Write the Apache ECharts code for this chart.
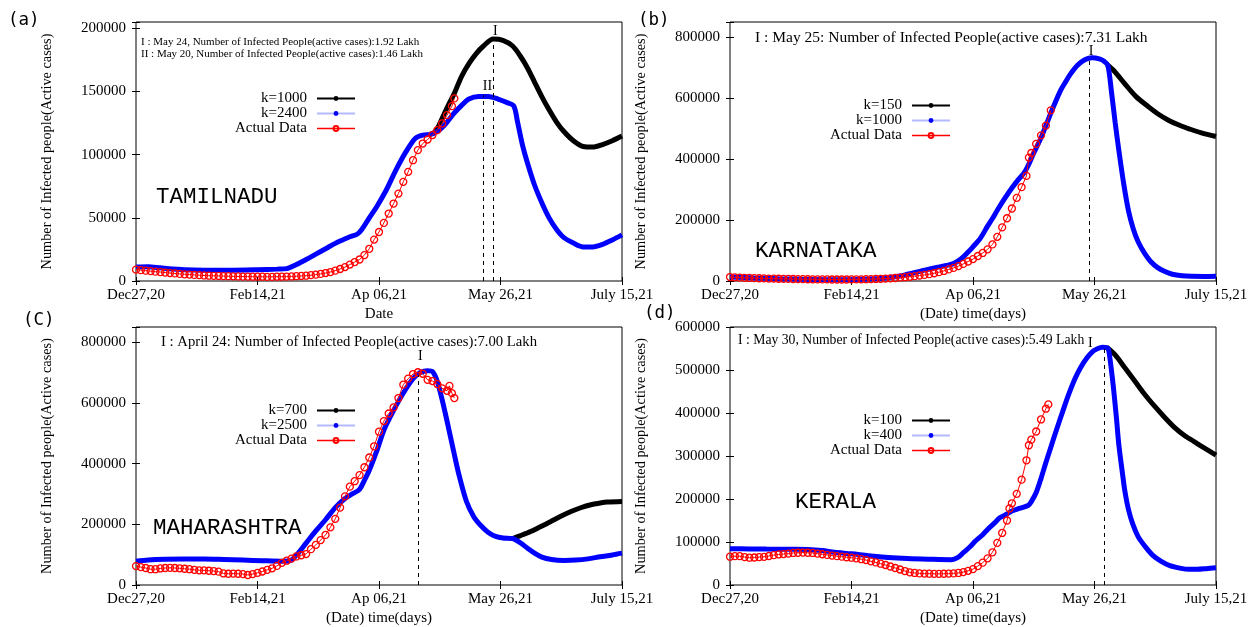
<!DOCTYPE html>
<html>
<head>
<meta charset="utf-8">
<title>Active cases - Tamilnadu, Karnataka, Maharashtra, Kerala</title>
<script src="https://cdn.jsdelivr.net/npm/echarts@6/dist/echarts.min.js"></script>
<style>
  html, body { margin: 0; padding: 0; background: #fff; }
  #chart { width: 1256px; height: 627px; }
</style>
</head>
<body>
<div id="chart"></div>
<script>
// x = days after Dec 27 2020, ticks every 50 days
var xTickLabels = ['Dec27,20', 'Feb14,21', 'Ap 06,21', 'May 26,21', 'July 15,21'];

// ---- (a) TAMILNADU ----
var tnK1000Days = [121,123,125,127,129,131,134,137,140,143,147,151,155,158,161,164,167,170,173,176,180,184,188,192,196,200];
var tnK1000 = [116000,118000,124500,133000,141000,148500,162000,172000,180000,186000,191500,190500,186000,178500,169000,157500,146000,135500,126000,118500,111000,106500,106000,108000,111000,114700];
var tnK2400Days = [0,5,10,15,20,28,38,50,58,62,66,70,74,78,82,85,88,91,93,96,99,103,107,111,115,118,121,124,127,131,134,137,141,145,149,153,155.5,157,159,161,164,167,170,173,176,180,184,188,192,196,200];
var tnK2400 = [11000,11300,10400,9500,9000,8600,8500,8900,9400,9800,13000,17000,21300,25500,29800,32500,35000,37000,41000,50000,58600,72000,88000,102000,113000,115500,116000,118500,123500,133000,139000,144000,146000,146000,144000,141000,138500,126000,108000,94000,76000,62000,50000,41000,34500,30000,27000,27000,29000,32500,36500];
var tnActualDays = [0,2,4,6,8,10,12,14,16,18,20,22,24,26,28,30,32,34,36,38,40,42,44,46,48,50,52,54,56,58,60,62,64,66,68,70,72,74,76,78,80,82,84,86,88,90,92,94,96,98,100,102,104,106,108,110,112,114,116,118,120,122,124,126,128,130,131];
var tnActual = [9000,8600,8200,7800,7400,7100,6700,6300,6000,5600,5300,5100,4800,4600,4400,4200,4100,4000,3900,3800,3700,3600,3500,3500,3400,3400,3400,3300,3300,3400,3400,3500,3600,3800,4000,4200,4600,5000,5600,6300,7100,8200,9500,11000,13000,15000,17000,20500,25500,32800,38800,46000,53400,61300,69200,78500,86400,95600,103600,108800,112000,115500,119400,124700,131300,138400,144500];
var tnPeakDays = [143, 147];
var tnPeakTops = [147100, 189400];
var tnPeakLabels = ['II', 'I'];

// ---- (b) KARNATAKA ----
var kaK150Days = [155,158,162.5,167,172.4,176,180.6,185,188.9,194,200];
var kaK150 = [712000,690000,647000,606000,570500,549000,527000,511000,499500,486000,474300];
var kaK1000Days = [0,10,20,30,40,50,60,65,70,73,77,81,85,89,92,95,98,100,103,106,108,110,113,116,118,120,121,122,123,125,128,130,133,136,138,140,143,146,149,152,154,155.5,157,158.5,160,162,164,166,168,170.7,173,176,179,182,186,190,195,200];
var kaK1000 = [13000,10000,7600,5500,4500,4500,7000,11000,16500,22000,29500,37500,44500,51000,57000,72000,95000,112000,140000,180000,205000,232000,270000,305000,326000,345000,355000,368000,384000,420000,470000,510000,570000,625000,652000,678000,708000,726000,733000,729000,721000,708000,620000,520000,430000,320000,230000,170000,128000,89600,65000,44000,31000,22000,17000,15300,15000,15300];
var kaActualDays = [0,2,4,6,8,10,12,14,16,18,20,22,24,26,28,30,32,34,36,38,40,42,44,46,48,50,52,54,56,58,60,62,64,66,68,70,72,74,76,78,80,82,84,86,88,90,92,94,96,98,100,102,104,106,108,110,112,114,116,118,120,122,123,124,126,128,130,132];
var kaActual = [13000,12000,11000,10500,10000,9500,9000,8500,8000,7700,7400,7000,6800,6500,6200,6000,5800,5600,5500,5300,5200,5000,5000,5000,5000,5200,5400,5600,5900,6200,6700,7300,8000,8800,9800,11000,12500,14000,16000,18000,20000,22500,25500,29000,33000,38000,43000,49000,56000,64000,72000,82000,92000,104000,120000,145000,176000,206000,238000,273000,308000,345000,405000,420000,450000,478000,510000,560000];
var kaPeakDays = [148];
var kaPeakTops = [729000];
var kaPeakLabels = ['I'];

// ---- (C) MAHARASHTRA ----
var mhK700Days = [155,158,162.4,166,170.7,175,179,183,187.2,191,194,200];
var mhK700 = [153000,162000,176000,190000,209000,227000,242000,254500,264500,270000,273200,275400];
var mhK2500Days = [0,5,12,20,28,36,44,52,60,63,66,70,74,78,82,86,89,92,94,96,99,102,105,108,111,114,117,120,122,124,126,128,131,133,136,139,142,145,148,151,155,158,161,164,167,171,176,181,186,191,196,200];
var mhK2500 = [78000,82000,84500,85500,85500,84000,82000,80000,78500,79000,98000,138000,178000,215000,255000,285000,300000,315000,345000,378000,440000,510000,560000,605000,645000,680000,700000,706000,703000,670000,610000,540000,430000,360000,275000,225000,195000,173000,160000,155000,153000,140000,122000,105000,92000,84000,81000,82000,86000,93000,99000,105000];
var mhActualDays = [0,2,4,6,8,10,12,14,16,18,20,22,24,26,28,30,32,34,36,38,40,42,44,46,48,50,52,54,56,58,60,62,64,66,68,70,72,74,76,78,80,82,84,86,88,90,92,94,96,98,100,102,104,106,108,110,112,114,116,118,120,122,124,126,128,129,130,131];
var mhActual = [62300,59000,56000,52000,52000,54500,56000,56500,56000,55000,53500,52000,50000,48500,48000,47000,46000,44000,38000,37000,37500,37000,36000,33000,36000,40000,44500,50000,55000,63000,73000,80000,87000,94000,98000,102000,118000,132000,148000,165000,190000,218000,255000,292000,324000,342000,362000,388000,420000,457000,505000,540000,565000,585000,616000,660000,680000,695000,701000,696000,676000,672000,662000,648000,640000,656000,632000,616000];
var mhPeakDays = [116];
var mhPeakTops = [691000];
var mhPeakLabels = ['I'];

// ---- (d) KERALA ----
var klK100Days = [155,158.5,162.5,166.5,170.7,175,179,183,187.3,191,193.9,197,200];
var klK100 = [552800,535000,505000,475000,443000,414000,389000,366000,346500,333500,323000,312500,302000];
var klK400Days = [0,8,15,25,32,38,43,50,57,65,73,82,91,94,96,99,101,104,106,109,111,114,116,119,122.7,124,126,128,130,132,134.3,137,139.3,142,144.3,147,149.2,151,153.3,155,155.8,157.5,159,160,161.5,162.5,164,165.8,168,170.7,174,177.3,181,185.6,189,192.2,196,200];
var klK400 = [84400,84000,83500,83000,82500,80000,76000,72500,68000,64000,61500,60000,59000,65000,75100,90000,102200,117000,129300,145000,156400,165000,171900,178000,185000,194000,215000,248000,285000,320000,360000,405000,442000,480000,506000,529000,543000,549000,553000,552000,547400,473800,390000,326700,260000,218300,175000,140900,112000,90600,69000,55700,45000,38700,36500,36400,38000,40300];
var klActualDays = [0,2,4,6,8,10,12,14,16,18,20,22,24,26,28,30,32,34,36,38,40,42,44,46,48,50,52,54,56,58,60,62,64,66,68,70,72,74,76,78,80,82,84,86,88,90,92,94,96,98,100,102,104,106,108,110,112,114,115,116,118,120,122,123,124,126,128,130,131];
var klActual = [65800,67000,67000,65000,63500,64000,65000,65500,67500,69500,71000,72000,73000,74500,75000,75500,75000,74500,73000,71500,70000,68500,67000,66000,64500,63500,62000,60000,58000,55000,52500,49500,46500,43000,39500,36000,32500,29500,28000,27000,26500,26300,26000,26000,26200,26500,27000,28000,30000,33000,37000,44000,52000,62000,76000,98000,121000,150000,178000,190000,212000,245000,290000,325000,338000,357000,385000,410000,420000];
var klPeakDays = [154];
var klPeakTops = [550800];
var klPeakLabels = ['I'];

function pairs(days, vals) {
  return days.map(function (d, i) { return [d, vals[i]]; });
}

var serif = '"Liberation Serif", "Times New Roman", serif';

var panels = [
  { key: 'a', box: [136, 22], yMax: 205000, yStep: 50000, xName: 'Date',
    high: ['k=1000', tnK1000Days, tnK1000], low: ['k=2400', tnK2400Days, tnK2400], actual: [tnActualDays, tnActual],
    peaks: [tnPeakDays, tnPeakTops, tnPeakLabels], peakLabel: [{ padding: [0, 0, 0, 8], distance: 2 }, { padding: [0, 0, 0, 4], distance: 3 }],
    legend: { right: 900, top: 91 } },
  { key: 'b', box: [730, 22], yMax: 850000, yStep: 200000, xName: '(Date) time(days)',
    high: ['k=150', kaK150Days, kaK150], low: ['k=1000', kaK1000Days, kaK1000], actual: [kaActualDays, kaActual],
    peaks: [kaPeakDays, kaPeakTops, kaPeakLabels], peakLabel: [{ padding: [0, 0, 0, 3], distance: 1 }],
    legend: { right: 305, top: 98 } },
  { key: 'c', box: [136, 327], yMax: 850000, yStep: 200000, xName: '(Date) time(days)',
    high: ['k=700', mhK700Days, mhK700], low: ['k=2500', mhK2500Days, mhK2500], actual: [mhActualDays, mhActual],
    peaks: [mhPeakDays, mhPeakTops, mhPeakLabels], peakLabel: [{ padding: [0, 0, 0, 5], distance: 12 }],
    legend: { right: 900, top: 403 } },
  { key: 'd', box: [730, 327], yMax: 600000, yStep: 100000, xName: '(Date) time(days)',
    high: ['k=100', klK100Days, klK100], low: ['k=400', klK400Days, klK400], actual: [klActualDays, klActual],
    peaks: [klPeakDays, klPeakTops, klPeakLabels], peakLabel: [{ padding: [0, 28, 0, 0], distance: -2 }],
    legend: { right: 305, top: 413 } }
];

var option = {
  animation: false,
  backgroundColor: '#fff',
  grid: [], xAxis: [], yAxis: [], legend: [], series: [],
  graphic: []
};

panels.forEach(function (p, i) {
  option.grid.push({
    left: p.box[0], top: p.box[1], width: 486, height: 259,
    show: true, borderColor: '#000', borderWidth: 1
  });

  var tick = { inside: true, length: 4, lineStyle: { color: '#000', width: 1 } };
  option.xAxis.push({
    gridIndex: i, type: 'value', position: 'bottom', min: 0, max: 200, interval: 50,
    axisLine: { show: false }, splitLine: { show: false }, axisTick: tick,
    axisLabel: {
      margin: 7, fontFamily: serif, fontSize: 15, color: '#000',
      formatter: function (v) { return xTickLabels[Math.round(v / 50)]; }
    },
    name: p.xName, nameLocation: 'middle', nameGap: 26,
    nameTextStyle: { fontFamily: serif, fontSize: 15, color: '#000' }
  });
  option.xAxis.push({
    gridIndex: i, type: 'value', position: 'top', min: 0, max: 200, interval: 50,
    axisLine: { show: false }, splitLine: { show: false }, axisTick: tick, axisLabel: { show: false }
  });
  option.yAxis.push({
    gridIndex: i, type: 'value', position: 'left', min: 0, max: p.yMax, interval: p.yStep,
    axisLine: { show: false }, splitLine: { show: false }, axisTick: tick,
    axisLabel: {
      margin: 10, fontFamily: serif, fontSize: 15, color: '#000',
      formatter: function (v) { return v % p.yStep === 0 ? String(v) : ''; }
    },
    name: 'Number of Infected people(Active cases)', nameLocation: 'middle', nameGap: 82,
    nameTextStyle: { fontFamily: serif, fontSize: 14.3, color: '#000' }
  });
  option.yAxis.push({
    gridIndex: i, type: 'value', position: 'right', min: 0, max: p.yMax, interval: p.yStep,
    axisLine: { show: false }, splitLine: { show: false }, axisTick: tick, axisLabel: { show: false }
  });

  var highName = p.key + '|' + p.high[0];
  var lowName = p.key + '|' + p.low[0];
  var actName = p.key + '|Actual Data';

  option.legend.push({
    orient: 'vertical', align: 'right', right: p.legend.right, top: p.legend.top,
    padding: 0, itemGap: 0, itemWidth: 38, itemHeight: 6, selectedMode: false,
    textStyle: { fontFamily: serif, fontSize: 15, color: '#000', padding: [0, 5, 0, 0] },
    formatter: function (name) { return name.split('|')[1]; },
    data: [
      { name: highName, lineStyle: { color: '#000', width: 2 } },
      { name: lowName, lineStyle: { color: '#b4baff', width: 2 } },
      { name: actName, lineStyle: { color: '#ff0000', width: 1.5 } }
    ]
  });

  var peakLines = p.peaks[0].map(function (d, k) {
    var lab = p.peakLabel[k];
    return [
      { coord: [d, 0], label: { formatter: p.peaks[2][k], padding: lab.padding, distance: lab.distance } },
      { coord: [d, p.peaks[1][k]] }
    ];
  });

  option.series.push({
    name: highName, type: 'line', xAxisIndex: 2 * i, yAxisIndex: 2 * i,
    data: pairs(p.high[1], p.high[2]), smooth: 0.3, showSymbol: false, symbol: 'circle',
    lineStyle: { color: '#000', width: 5 }, itemStyle: { color: '#000' }, z: 2,
    markLine: {
      silent: true, symbol: ['none', 'none'], animation: false,
      lineStyle: { color: '#000', width: 1, type: [4, 4] },
      label: { show: true, position: 'end', fontFamily: serif, fontSize: 14, color: '#000' },
      data: peakLines
    }
  });
  option.series.push({
    name: lowName, type: 'line', xAxisIndex: 2 * i, yAxisIndex: 2 * i,
    data: pairs(p.low[1], p.low[2]), smooth: 0.3, showSymbol: false, symbol: 'circle',
    lineStyle: { color: '#0000ff', width: 5 }, itemStyle: { color: '#0000ff' }, z: 3
  });
  option.series.push({
    name: actName, type: 'line', xAxisIndex: 2 * i, yAxisIndex: 2 * i,
    data: pairs(p.actual[0], p.actual[1]), symbol: 'circle', symbolSize: 7, showSymbol: true,
    lineStyle: { color: '#ff0000', width: 1 },
    itemStyle: { color: 'rgba(255,255,255,0)', borderColor: '#ff0000', borderWidth: 1.3 }, z: 4
  });
});

// panel tags, state names and peak notes
function txt(left, top, text, font) {
  return { type: 'text', left: left, top: top, silent: true, z: 10,
           style: { text: text, font: font, fill: '#000' } };
}
var monoTag = '17.5px "DejaVu Sans Mono", monospace';
var monoState = '22.5px "Liberation Mono", "Courier New", monospace';
option.graphic = [
  txt(8, 11, '(a)', monoTag),
  txt(638, 11, '(b)', monoTag),
  txt(23, 311, '(C)', monoTag),
  txt(644, 304, '(d)', monoTag),
  txt(156, 186, 'TAMILNADU', monoState),
  txt(755, 240, 'KARNATAKA', monoState),
  txt(153, 517, 'MAHARASHTRA', monoState),
  txt(795, 491, 'KERALA', monoState),
  txt(141, 37, 'I : May 24, Number of Infected People(active cases):1.92 Lakh', '11px ' + serif),
  txt(141, 49, 'II : May 20, Number of Infected People(active cases):1.46 Lakh', '11px ' + serif),
  txt(755, 29.5, 'I : May 25: Number of Infected People(active cases):7.31 Lakh', '15.5px ' + serif),
  txt(161, 335, 'I : April 24: Number of Infected People(active cases):7.00 Lakh', '14.7px ' + serif),
  txt(738, 333, 'I : May 30, Number of Infected People(active cases):5.49 Lakh', '13.7px ' + serif)
];

var chart = echarts.init(document.getElementById('chart'), null, { renderer: 'canvas' });
chart.setOption(option);
</script>
</body>
</html>
